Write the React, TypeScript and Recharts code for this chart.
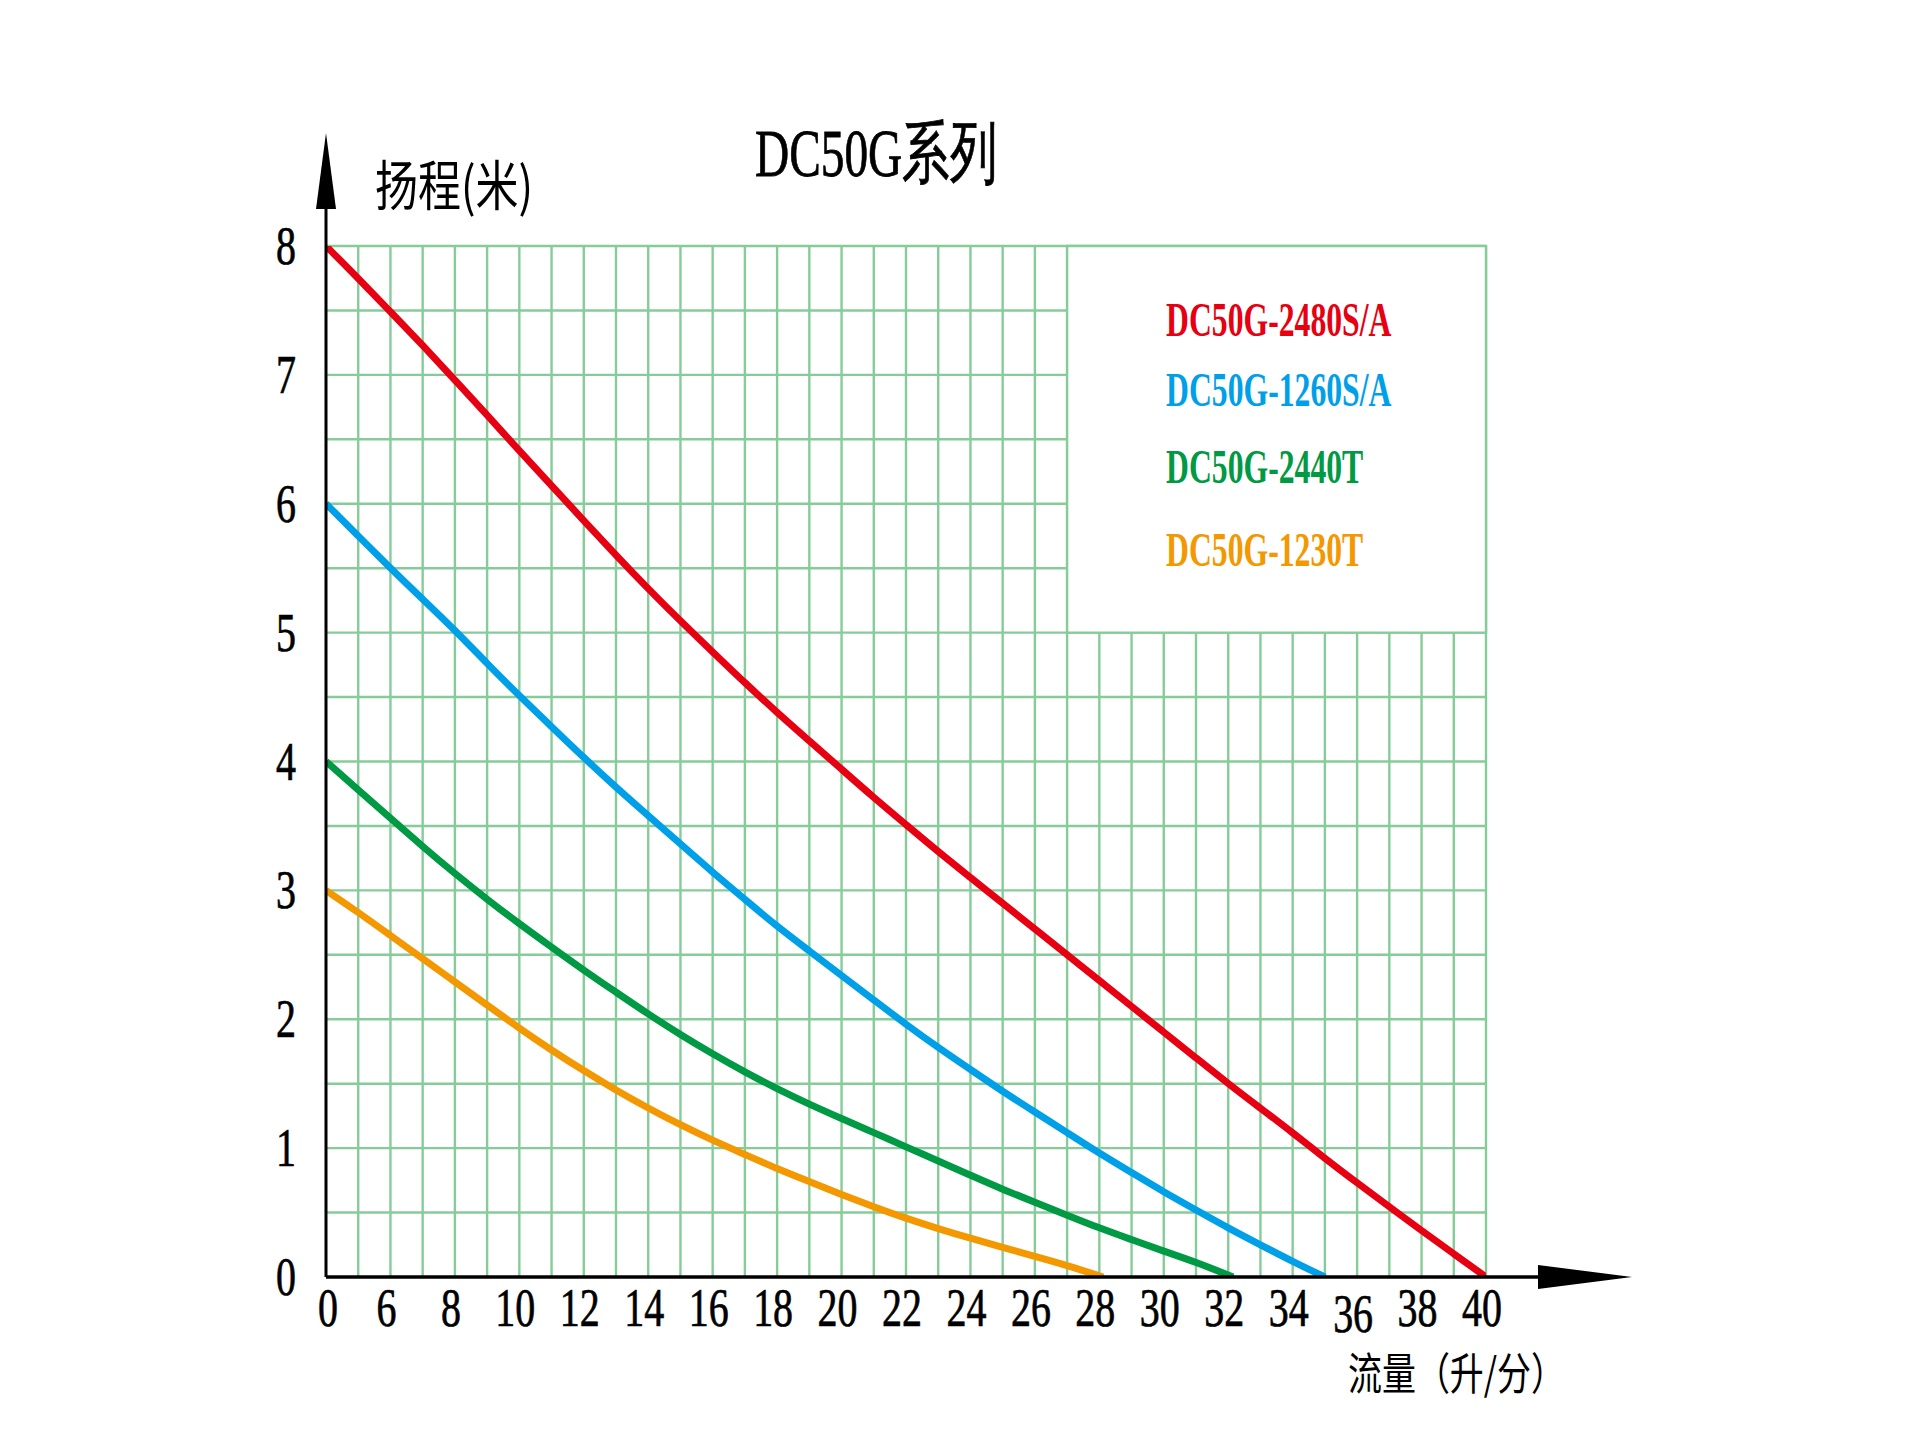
import React from 'react';
import {
  LineChart,
  Line,
  XAxis,
  YAxis,
  CartesianGrid,
  ReferenceArea,
  Customized,
} from 'recharts';

// ---------- text ----------
const TITLE = 'DC50G系列';
const Y_TITLE = '扬程(米)';
const X_TITLE = '流量（升/分）';

// ---------- axes ----------
// tick labels on the (non-uniform) flow axis, one per axis slot
const xTickLabels = ['0', '6', '8', '10', '12', '14', '16', '18', '20', '22', '24', '26', '28', '30', '32', '34', '36', '38', '40'];
const yTicks = [0, 1, 2, 3, 4, 5, 6, 7, 8];

// ---------- series (flow in L/min, head in m) ----------
const seriesNames = ['DC50G-2480S/A', 'DC50G-1260S/A', 'DC50G-2440T', 'DC50G-1230T'];
const seriesColors = ['#e60012', '#00a0e9', '#009944', '#f39800'];

const redFlow = [0, 3, 6, 7, 8, 9, 10, 11, 12, 13, 14, 15, 16, 17, 18, 19, 20, 21, 22, 23, 24, 25, 26, 27, 28, 29, 30, 31, 32, 33, 34, 35, 36, 37, 38, 39, 40];
const redHead = [8.0, 7.75, 7.49, 7.23, 6.96, 6.69, 6.41, 6.14, 5.87, 5.6, 5.34, 5.09, 4.85, 4.61, 4.38, 4.16, 3.94, 3.72, 3.51, 3.3, 3.1, 2.9, 2.7, 2.5, 2.3, 2.1, 1.9, 1.7, 1.5, 1.31, 1.12, 0.92, 0.73, 0.545, 0.36, 0.18, 0];

const blueFlow = [0, 3, 6, 7, 8, 9, 10, 11, 12, 13, 14, 15, 16, 17, 18, 19, 20, 21, 22, 23, 24, 25, 26, 27, 28, 29, 30, 31, 32, 33, 34, 35];
const blueHead = [6.0, 5.75, 5.5, 5.26, 5.02, 4.76, 4.51, 4.27, 4.03, 3.8, 3.58, 3.36, 3.14, 2.93, 2.72, 2.53, 2.34, 2.15, 1.96, 1.78, 1.61, 1.44, 1.28, 1.12, 0.96, 0.81, 0.66, 0.52, 0.38, 0.25, 0.12, 0];

const greenFlow = [0, 3, 6, 7, 8, 9, 10, 11, 12, 13, 14, 15, 16, 17, 18, 19, 20, 21, 22, 23, 24, 25, 26, 27, 28, 29, 30, 31, 32.15];
const greenHead = [4.0, 3.78, 3.56, 3.34, 3.13, 2.93, 2.74, 2.56, 2.38, 2.21, 2.04, 1.88, 1.73, 1.59, 1.46, 1.34, 1.23, 1.12, 1.01, 0.9, 0.79, 0.68, 0.58, 0.48, 0.38, 0.29, 0.2, 0.115, 0];

const orangeFlow = [0, 3, 6, 7, 8, 9, 10, 11, 12, 13, 14, 15, 16, 17, 18, 19, 20, 21, 22, 23, 24, 25, 26, 27, 28.12];
const orangeHead = [3.0, 2.83, 2.65, 2.47, 2.29, 2.11, 1.93, 1.76, 1.6, 1.45, 1.31, 1.18, 1.06, 0.95, 0.84, 0.74, 0.64, 0.545, 0.455, 0.375, 0.3, 0.23, 0.16, 0.09, 0];

// the printed axis puts 0 and 6 one slot apart, then 2 L/min per slot
const flowToPos = (f: number) => (f <= 6 ? f / 6 : 1 + (f - 6) / 2);
const build = (flow: number[], head: number[]) =>
  flow.map((f, i) => ({ flow: f, pos: flowToPos(f), head: head[i] }));

const seriesData = [
  build(redFlow, redHead),
  build(blueFlow, blueHead),
  build(greenFlow, greenHead),
  build(orangeFlow, orangeHead),
];

// ---------- layout / style ----------
const W = 1903;
const H = 1427;
const PLOT_LEFT = 318;
const PLOT_RIGHT = 1478;
const PLOT_TOP = 238;
const PLOT_BOTTOM = 1269;
const Y_AXIS_W = 60;
const X_AXIS_H = 60;
const GRID = '#86cc98';
const SERIF = "'Liberation Serif', 'Times New Roman', serif";
const CJK = "'Noto Sans CJK SC', 'Noto Sans CJK JP', sans-serif";

const gridH: number[] = [];
for (let k = 1; k <= 16; k++) gridH.push(k * 0.5);
const gridV: number[] = [];
for (let k = 1; k <= 36; k++) gridV.push(k * 0.5);
const xTicks = xTickLabels.map((_, i) => i);

const XTick = (props: any) => {
  const { x, y, payload } = props;
  const label = xTickLabels[payload.value] ?? '';
  const dx = payload.value === 0 ? 2 : -4;
  const dy = label === '36' ? 6 : 0;
  return (
    <g transform={`translate(${x + dx},${y + 49 + dy}) scale(0.74,1)`}>
      <text x={0} y={0} textAnchor="middle" fontFamily={SERIF} fontSize={54} fill="#000" stroke="#000" strokeWidth={0.7}>
        {label}
      </text>
    </g>
  );
};

const YTick = (props: any) => {
  const { x, y, payload } = props;
  return (
    <g transform={`translate(${x - 40},${y + 18}) scale(0.74,1)`}>
      <text x={0} y={0} textAnchor="middle" fontFamily={SERIF} fontSize={54} fill="#000" stroke="#000" strokeWidth={0.7}>
        {String(payload.value)}
      </text>
    </g>
  );
};

// legend drawn inside the white box (offsets relative to the box's top-left)
const legendDx = 99;
const legendBaselines = [90, 160, 237, 320];

const LegendInBox = (props: any) => {
  const vb = props.viewBox || {};
  const bx = vb.x ?? 0;
  const by = vb.y ?? 0;
  return (
    <g>
      {seriesNames.map((name, i) => (
        <g key={name} transform={`translate(${bx + legendDx},${by + legendBaselines[i]}) scale(0.66,1)`}>
          <text x={0} y={0} fontFamily={SERIF} fontWeight="bold" fontSize={48} fill={seriesColors[i]}>
            {name}
          </text>
        </g>
      ))}
    </g>
  );
};

const Decorations = () => (
  <g>
    {/* y-axis arrow */}
    <line x1={PLOT_LEFT} y1={198} x2={PLOT_LEFT} y2={PLOT_TOP} stroke="#000" strokeWidth={3} />
    <polygon points={`${PLOT_LEFT},125 ${PLOT_LEFT - 10},201 ${PLOT_LEFT + 10},201`} fill="#000" />
    {/* x-axis arrow */}
    <line x1={PLOT_RIGHT} y1={PLOT_BOTTOM} x2={1532} y2={PLOT_BOTTOM} stroke="#000" strokeWidth={3.5} />
    <polygon points={`1530,${PLOT_BOTTOM - 12} 1624,${PLOT_BOTTOM} 1530,${PLOT_BOTTOM + 12}`} fill="#000" />

    {/* title */}
    <text x={747} y={168} fontFamily={SERIF} fontSize={68} fill="#000" stroke="#000" strokeWidth={0.8} textLength={242} lengthAdjust="spacingAndGlyphs">
      {TITLE}
    </text>
    {/* axis titles */}
    <text x={367} y={198} fontFamily={CJK} fontSize={54} fill="#000" textLength={158} lengthAdjust="spacingAndGlyphs">
      {Y_TITLE}
    </text>
    <text x={1340} y={1382} fontFamily={CJK} fontSize={44} fill="#000" textLength={217} lengthAdjust="spacingAndGlyphs">
      {X_TITLE}
    </text>
  </g>
);

export default function App() {
  return (
    <div style={{ width: W, height: H }}>
      <LineChart
        width={W}
        height={H}
        margin={{
          top: PLOT_TOP,
          right: W - PLOT_RIGHT,
          left: PLOT_LEFT - Y_AXIS_W,
          bottom: H - PLOT_BOTTOM - X_AXIS_H,
        }}
      >
        <CartesianGrid
          stroke={GRID}
          strokeWidth={2.4}
          horizontalValues={gridH}
          verticalValues={gridV}
        />
        <ReferenceArea
          x1={11.5}
          x2={18}
          y1={5}
          y2={8}
          fill="#ffffff"
          fillOpacity={1}
          stroke={GRID}
          strokeWidth={2.4}
          strokeOpacity={1}
          ifOverflow="visible"
          label={(p: any) => <LegendInBox {...p} />}
        />
        <XAxis
          dataKey="pos"
          type="number"
          domain={[0, 18]}
          ticks={xTicks}
          interval={0}
          allowDataOverflow
          height={X_AXIS_H}
          tickSize={0}
          tickMargin={0}
          tickLine={false}
          axisLine={{ stroke: '#000', strokeWidth: 3.5 }}
          tick={<XTick />}
        />
        <YAxis
          type="number"
          domain={[0, 8]}
          ticks={yTicks}
          interval={0}
          allowDataOverflow
          width={Y_AXIS_W}
          tickSize={0}
          tickMargin={0}
          tickLine={false}
          axisLine={{ stroke: '#000', strokeWidth: 3 }}
          tick={<YTick />}
        />
        {seriesData.map((d, i) => (
          <Line
            key={seriesNames[i]}
            data={d}
            dataKey="head"
            name={seriesNames[i]}
            type="basis"
            stroke={seriesColors[i]}
            strokeWidth={7}
            dot={false}
            activeDot={false}
            isAnimationActive={false}
          />
        ))}
        <Customized component={<Decorations />} />
      </LineChart>
    </div>
  );
}
